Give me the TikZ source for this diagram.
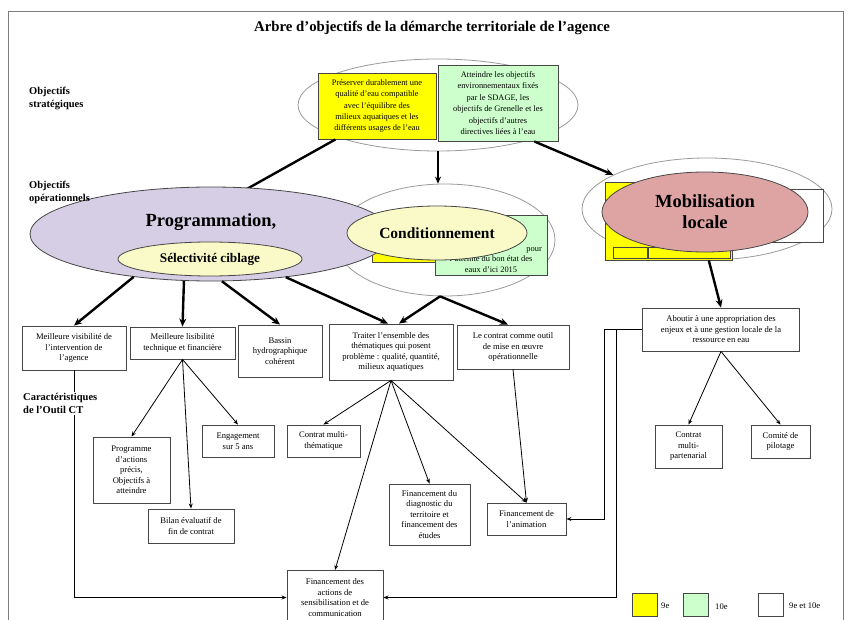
\documentclass[tikz,border=0pt]{standalone}
\usepackage{fontspec}
\setmainfont{Liberation Serif}
\usetikzlibrary{arrows.meta,shapes.geometric,calc}
\definecolor{yel}{RGB}{255,255,0}
\definecolor{grn}{RGB}{204,255,204}
\definecolor{lav}{RGB}{214,206,228}
\definecolor{cream}{RGB}{250,250,200}
\definecolor{pnk}{RGB}{222,164,164}
\definecolor{ln}{RGB}{70,70,70}
\begin{document}
\begin{tikzpicture}[x=1pt,y=-1pt,
  box/.style={draw=ln, line width=0.9pt, fill=white, align=center, font=\fontsize{8.6}{10.5}\selectfont, inner sep=1pt},
  tbox/.style={draw=ln, line width=0.9pt, align=center, font=\fontsize{8.4}{11.4}\selectfont, inner sep=1pt},
  lab/.style={font=\bfseries\fontsize{10.5}{13}\selectfont, align=left, inner sep=1pt, anchor=north west},
  ell/.style={ellipse, inner sep=0pt, line width=0.8pt},
  thk/.style={line width=2.4pt, draw=black},
  thka/.style={thk, -{Stealth[length=8pt,width=7pt]}},
  thn/.style={line width=0.8pt, draw=black, -{Stealth[length=5pt,width=4pt]}},
  leg/.style={draw=ln, line width=1pt, minimum width=25, minimum height=23, inner sep=0pt},
  legt/.style={font=\fontsize{8.6}{10}\selectfont, anchor=west, inner sep=1pt}
]
\useasboundingbox (0,0) rectangle (850,620);
\draw[ln!70, line width=1pt] (8,620) -- (8,12) -- (843,12) -- (843,620);

\node[font=\bfseries\fontsize{14.8}{17}\selectfont] (title) at (432,28) {Arbre d’objectifs de la démarche territoriale de l’agence};

\node[lab] (lstrat) at (28,86) {Objectifs\\stratégiques};

% strategic objectives
\node[ell, draw=gray!80, minimum width=280, minimum height=92] (topell) at (438,105) {};
\node[tbox, fill=yel, minimum width=118, minimum height=66] (yel1) at (377,106) {Préserver durablement une\\qualité d’eau compatible\\avec l’équilibre des\\milieux aquatiques et les\\différents usages de l’eau};
\node[tbox, fill=grn, minimum width=120, minimum height=76] (grn1) at (498,103) {Atteindre les objectifs\\environnementaux fixés\\par le SDAGE, les\\objectifs de Grenelle et les\\objectifs d’autres\\directives liées à l’eau};

% conditionnement group (background)
\node[ell, draw=gray!80, minimum width=220, minimum height=112] (condw) at (445,240) {};
\node[draw=ln, line width=0.6pt, fill=yel, minimum width=64, minimum height=44, inner sep=0pt] (yel2) at (404,240) {};
\node[draw=ln, line width=0.9pt, fill=grn, minimum width=112, minimum height=60, inner sep=0pt] (grn2) at (491,245) {};
\node[anchor=south, align=center, inner sep=1pt, font=\fontsize{8.4}{10.3}\selectfont] (grn2t) at ($(grn2.south)+(0,-2)$) {l’atteinte du bon état des\\eaux d’ici 2015};
\node[anchor=east, inner sep=1pt, font=\fontsize{8.4}{10.3}\selectfont] (grn2p) at (543,250) {pour};

% connectors from strategic level
\draw[thk] ($(yel1.south west)!0.15!(yel1.south east)$) -- (245,190) coordinate (pt);
\draw[line width=1.4pt, -{Stealth[length=7pt,width=6pt]}] (topell.south) -- (topell.south |- condw.north);

% programmation
\node[ell, draw=ln, fill=lav, minimum width=362, minimum height=94] (prog) at (211,234) {};
\node[font=\bfseries\fontsize{18.5}{21}\selectfont, inner sep=0pt] (progt) at (211,222) {Programmation,};
\node[ell, draw=ln, fill=cream, minimum width=184, minimum height=34, font=\bfseries\fontsize{13.2}{15}\selectfont] (selec) at (210,259) {Sélectivité ciblage};
\node[ell, draw=ln, fill=cream, minimum width=180, minimum height=54, font=\bfseries\fontsize{15.5}{18}\selectfont] (cond) at (437,233) {Conditionnement};

\node[lab] (lop) at (28,180) {Objectifs\\opérationnels};

% mobilisation group
\node[ell, draw=gray!80, minimum width=250, minimum height=102] (mobw) at (707,209) {};
\node[draw=ln, line width=0.8pt, fill=yel, minimum width=127, minimum height=78, inner sep=0pt] (yel3) at (668.5,221) {};
\node[draw=ln, line width=0.5pt, minimum width=34, minimum height=11, inner sep=0pt] (ys1) at (630,252.5) {};
\node[draw=ln, line width=0.5pt, minimum width=82, minimum height=11, inner sep=0pt] (ys2) at (689,252.5) {};
\node[draw=ln, line width=0.8pt, fill=white, minimum width=123, minimum height=53, inner sep=0pt] (wht3) at (761.5,215.5) {};
\node[ell, draw=ln, fill=pnk, minimum width=206, minimum height=80, align=center, font=\bfseries\fontsize{18.5}{21}\selectfont] (mob) at (705,212) {Mobilisation\\locale};
\draw[thka] ($(grn1.south west)!0.8!(grn1.south east)$) -- (mobw.160);

% first row
\node[box, minimum width=104, minimum height=44] (b1) at (74,348) {Meilleure visibilité de\\l’intervention de\\l’agence};
\node[box, minimum width=105, minimum height=32] (b2) at (182.5,343) {Meilleure lisibilité\\technique et financière};
\node[box, minimum width=84, minimum height=52] (b3) at (280,351) {Bassin\\hydrographique\\cohérent};
\node[box, minimum width=124, minimum height=56] (b4) at (391,352) {Traiter l’ensemble des\\thématiques qui posent\\problème : qualité, quantité,\\milieux aquatiques};
\node[box, minimum width=112, minimum height=44] (b5) at (513,347) {Le contrat comme outil\\de mise en œuvre\\opérationnelle};
\node[box, minimum width=157, minimum height=43] (b6) at (721,329.5) {Aboutir à une appropriation des\\enjeux et à une gestion locale de la\\ressource en eau};

\draw[thka] (prog.209) -- (b1.north);
\draw[thka] (prog.240) -- (b2.north);
\draw[thka] (prog.283) -- (b3.north);
\draw[thka] (prog.330) -- ($(b4.north)+(-3,0)$);
\draw[thka] (condw.265) -- ($(b4.north)+(8,0)$);
\draw[thka] (condw.265) -- ($(b5.north)+(-5,0)$);
\draw[thka] (mobw.272) -- (b6.north);

% characteristics
\node[box, minimum width=77, minimum height=66] (pact) at (131.5,470) {Programme\\d’actions\\précis,\\Objectifs à\\atteindre};
\node[box, minimum width=86, minimum height=34] (bilan) at (191,526) {Bilan évaluatif de\\fin de contrat};
\node[box, minimum width=72, minimum height=32] (engag) at (238,441) {Engagement\\sur 5 ans};
\node[box, minimum width=73, minimum height=32] (cmulti) at (323.5,441) {Contrat multi-\\thématique};
\node[box, minimum width=81, minimum height=61] (diag) at (429.5,514.5) {Financement du\\diagnostic du\\territoire et\\financement des\\études};
\node[box, minimum width=79, minimum height=32] (anim) at (526.5,519) {Financement de\\l’animation};
\node[box, minimum width=96, minimum height=54] (actions) at (335,597.5) {Financement des\\actions de\\sensibilisation et de\\communication};
\node[box, minimum width=67, minimum height=43] (cpart) at (688.5,446.5) {Contrat\\multi-\\partenarial};
\node[box, minimum width=59, minimum height=33] (copil) at (780.5,441.5) {Comité de\\pilotage};

\draw[thn] (b2.south) -- (pact.north);
\draw[thn] (b2.south) -- (bilan.north);
\draw[thn] (b2.south) -- (engag.north);
\draw[thn] (b4.south) -- (cmulti.north);
\draw[thn] (b4.south) -- (actions.north);
\draw[thn] (b4.south) -- (diag.north);
\draw[thn] (b4.south) -- (anim.north);
\draw[thn] (b5.south) -- (anim.north);
\draw[thn] (b6.south) -- (cpart.north);
\draw[thn] (b6.south) -- (copil.north);
\draw[thn] (b1.south) |- (actions.west);
\coordinate (j1) at (604,329.5);
\coordinate (j2) at (616,329.5);
\draw[thn] (b6.west) -- (j1) |- (anim.east);
\draw[thn] (j2) |- (actions.east);

\node[lab, fill=white] (lcar) at (22,392) {Caractéristiques\\de l’Outil CT};

% legend
\node[leg, fill=yel] (ly) at (644.5,604.5) {};
\node[legt] (lyt) at (660,606) {9e};
\node[leg, fill=grn] (lg) at (696,605) {};
\node[legt] (lgt) at (714,607) {10e};
\node[leg, fill=white] (lw) at (770.5,605) {};
\node[legt] (lwt) at (788,606) {9e et 10e};
\end{tikzpicture}
\end{document}
